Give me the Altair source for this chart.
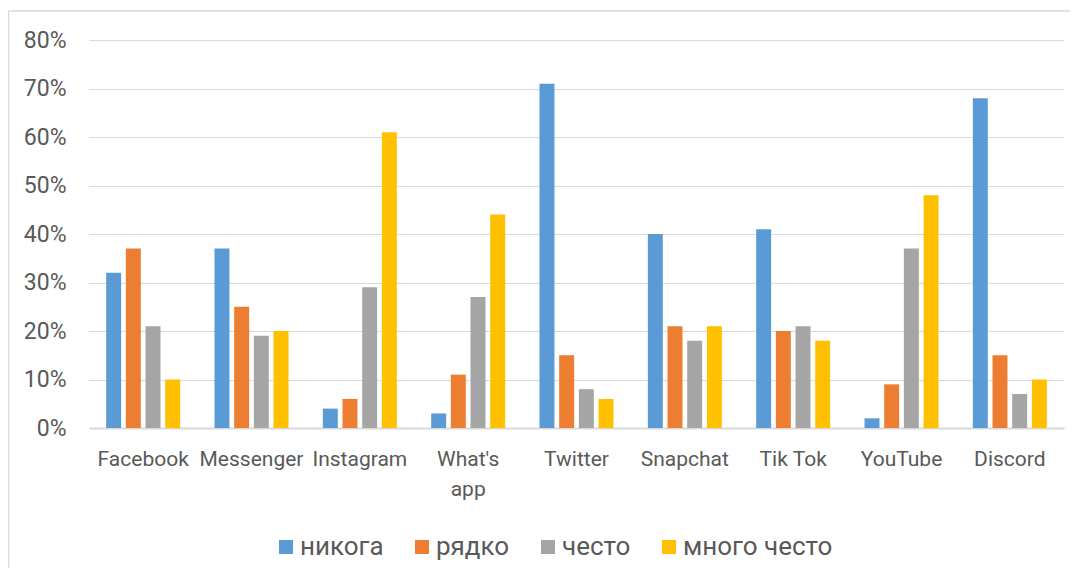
import altair as alt
import pandas as pd

categories = ["Facebook", "Messenger", "Instagram", "What's app", "Twitter",
              "Snapchat", "Tik Tok", "YouTube", "Discord"]
series = ["никога", "рядко", "често", "много често"]
never = [32, 37, 4, 3, 71, 40, 41, 2, 68]
rarely = [37, 25, 6, 11, 15, 21, 20, 9, 15]
often = [21, 19, 29, 27, 8, 18, 21, 37, 7]
very_often = [10, 20, 61, 44, 6, 21, 18, 48, 10]
colors = ["#5B9BD5", "#ED7D31", "#A5A5A5", "#FFC000"]
y_ticks = [0, 0.1, 0.2, 0.3, 0.4, 0.5, 0.6, 0.7, 0.8]

rows = []
for s, vals in zip(series, [never, rarely, often, very_often]):
    for c, v in zip(categories, vals):
        rows.append({"platform": c, "freq": s, "value": v / 100})
df = pd.DataFrame(rows)

FONT = "Roboto, sans-serif"
TXT = "#595959"

bars = alt.Chart(df).mark_bar().encode(
    x=alt.X("platform:N", sort=categories,
            scale=alt.Scale(paddingInner=0.317, paddingOuter=0.1585),
            axis=alt.Axis(title=None, labelAngle=0, ticks=False, domain=True,
                          domainColor="#D9D9D9", domainWidth=2, grid=False,
                          labelFont=FONT, labelFontSize=21, labelColor=TXT,
                          labelPadding=20, labelBaseline="top",
                          labelLineHeight=30, labelOverlap=False,
                          labelExpr="datum.value === \"What's app\" ? split(datum.value, ' ') : datum.value")),
    xOffset=alt.XOffset("freq:N", sort=series,
                        scale=alt.Scale(paddingInner=0.24, paddingOuter=0)),
    y=alt.Y("value:Q", scale=alt.Scale(domain=[0, 0.8], nice=False),
            axis=alt.Axis(title=None, format=".0%", values=y_ticks, ticks=False,
                          domain=False, gridColor="#D9D9D9", gridWidth=1,
                          labelFont=FONT, labelFontSize=23, labelColor=TXT,
                          labelPadding=23)),
    color=alt.Color("freq:N", sort=series,
                    scale=alt.Scale(domain=series, range=colors),
                    legend=alt.Legend(title=None, orient="none", legendX=184,
                                      legendY=494, direction="horizontal",
                                      symbolType="square", symbolSize=196,
                                      symbolStrokeWidth=0, labelFont=FONT,
                                      labelFontSize=26, labelColor=TXT,
                                      columnPadding=25, labelOffset=1)),
)

border = alt.Chart(pd.DataFrame({"a": [0]})).mark_rect(
    fill=None, stroke="#D9D9D9", strokeWidth=1.5
).encode(x=alt.value(-80.5), x2=alt.value(1100), y=alt.value(-29), y2=alt.value(700))

chart = alt.layer(border, bars).properties(
    width=975, height=388,
    autosize=alt.AutoSizeParams(type="none"),
    padding={"left": 81, "top": 32, "right": 6, "bottom": 140},
    background="white",
).configure_view(stroke=None)

chart.save("out.html", embed_options={"renderer": "svg", "actions": False})
